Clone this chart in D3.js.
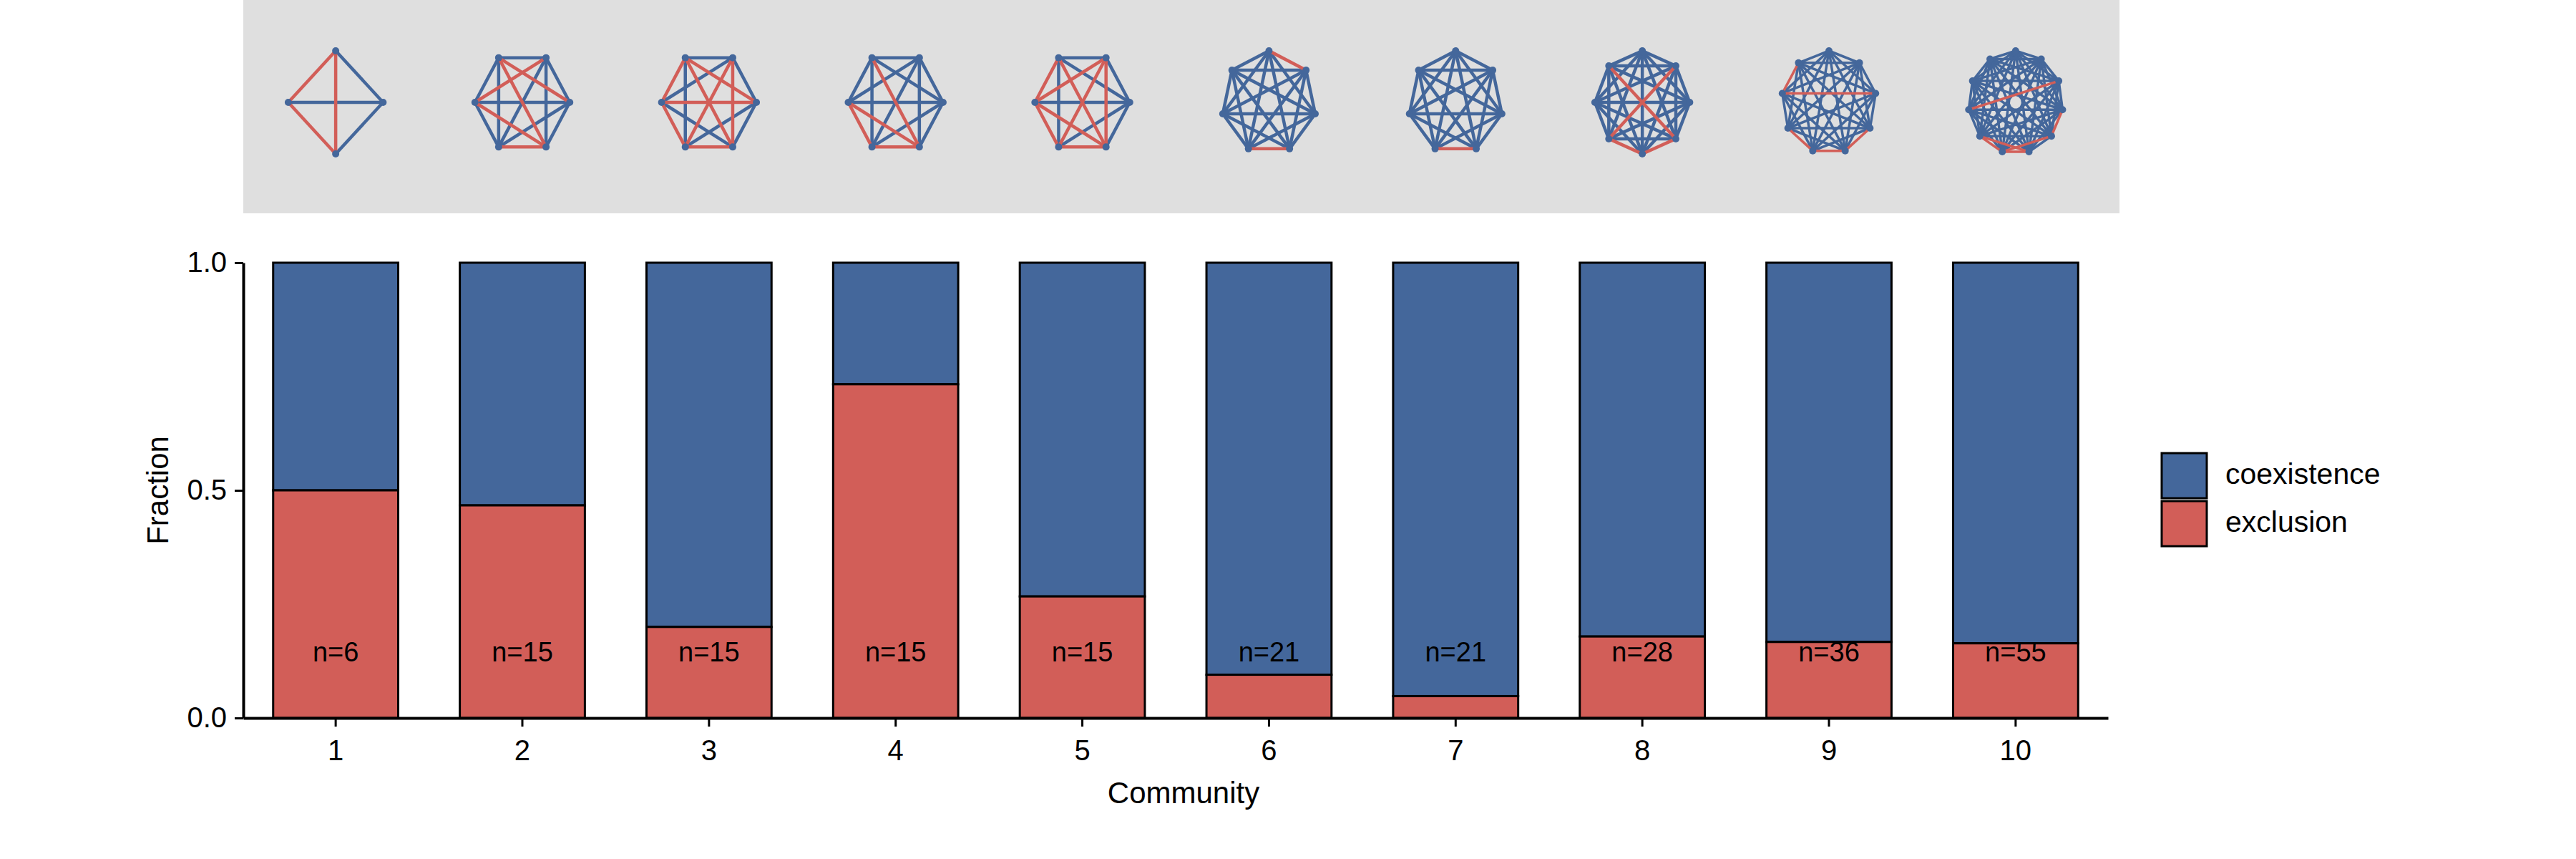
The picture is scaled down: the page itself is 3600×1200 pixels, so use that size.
<!DOCTYPE html>
<html><head><meta charset="utf-8">
<script src="https://cdn.jsdelivr.net/npm/d3@7"></script>
<style>body{margin:0;background:#fff}text{font-family:"Liberation Sans",Arial,sans-serif}</style>
</head><body><svg id="chart" width="3600" height="1200"></svg>
<script>
const communities = ["1","2","3","4","5","6","7","8","9","10"];
const exclusion = [0.5, 0.467, 0.2, 0.733, 0.267, 0.095, 0.048, 0.179, 0.167, 0.164];
const nLabels = ["n=6","n=15","n=15","n=15","n=15","n=21","n=21","n=28","n=36","n=55"];
const nodeCounts = [4, 6, 6, 6, 6, 7, 7, 8, 9, 11];
const nodeStart = [-90, -120, -120, -120, -120, -90, -90, -90, -90, -90];
// red (exclusion) edges of each network, by node index clockwise from top
const redEdges = [
  [[0,3],[3,2],[0,2]],
  [[0,2],[1,5],[3,4],[0,3],[5,3]],
  [[5,0],[5,2],[5,4],[0,2],[1,3],[4,1],[3,4],[0,3]],
  [[0,3],[5,3],[5,4],[4,3]],
  [[5,0],[5,1],[5,3],[5,4],[0,3],[1,3],[4,3],[1,4]],
  [[0,1],[4,3]],
  [[3,4]],
  [[7,3],[1,5],[4,3],[4,5]],
  [[7,8],[6,5],[5,4],[4,3],[2,7]],
  [[5,6],[6,7],[5,7],[6,4],[2,8],[3,4]]
];
const ticks = [0, 0.5, 1];
const blue = "#44679b", red = "#d25e58";

const svg = d3.select("#chart");
const x = d3.scaleBand().domain(communities).range([340, 2946]).paddingInner(0.33).paddingOuter(0.16);
const y = d3.scaleLinear().domain([0, 1]).range([1003, 367]);

// network strip
svg.append("rect").attr("x", 340).attr("y", 0).attr("width", 2622).attr("height", 298).attr("fill", "#dfdfdf");
const rad = 72;
communities.forEach((c, i) => {
  const cx = x(c) + x.bandwidth() / 2, cy = 143;
  const n = nodeCounts[i];
  const pts = d3.range(n).map(k => {
    const a = (nodeStart[i] + k * 360 / n) * Math.PI / 180;
    return [cx + rad * 0.92 * Math.cos(a), cy + rad * Math.sin(a)];
  });
  const reds = new Set(redEdges[i].map(e => Math.min(...e) + "-" + Math.max(...e)));
  const edges = [];
  for (let a = 0; a < n; a++) for (let b = a + 1; b < n; b++) edges.push([a, b, reds.has(a + "-" + b)]);
  edges.sort((p, q) => p[2] - q[2]);
  const g = svg.append("g");
  g.selectAll("line").data(edges).join("line")
    .attr("x1", e => pts[e[0]][0]).attr("y1", e => pts[e[0]][1])
    .attr("x2", e => pts[e[1]][0]).attr("y2", e => pts[e[1]][1])
    .attr("stroke", e => e[2] ? red : blue).attr("stroke-width", n > 8 ? 3.5 : 4.5);
  g.selectAll("circle").data(pts).join("circle")
    .attr("cx", p => p[0]).attr("cy", p => p[1]).attr("r", 5).attr("fill", blue);
});

// bars
const bars = svg.append("g");
communities.forEach((c, i) => {
  bars.append("rect").attr("x", x(c)).attr("width", x.bandwidth())
    .attr("y", y(1)).attr("height", y(exclusion[i]) - y(1))
    .attr("fill", blue).attr("stroke", "#000").attr("stroke-width", 3);
  bars.append("rect").attr("x", x(c)).attr("width", x.bandwidth())
    .attr("y", y(exclusion[i])).attr("height", y(0) - y(exclusion[i]))
    .attr("fill", red).attr("stroke", "#000").attr("stroke-width", 3);
  bars.append("text").attr("x", x(c) + x.bandwidth() / 2).attr("y", y(0.14))
    .attr("text-anchor", "middle").attr("dominant-baseline", "middle")
    .attr("font-size", 38).text(nLabels[i]);
});

// axes
const xAxis = svg.append("g").attr("transform", "translate(0,1003)")
  .call(d3.axisBottom(x).tickSize(12).tickSizeOuter(0));
xAxis.select(".domain").attr("stroke-width", 4);
const yAxis = svg.append("g").attr("transform", "translate(340,0)")
  .call(d3.axisLeft(y).tickValues(ticks).tickFormat(d3.format(".1f")).tickSize(12).tickSizeOuter(0));
yAxis.select(".domain").attr("stroke-width", 4);
[xAxis, yAxis].forEach(a => {
  a.selectAll(".tick line").attr("stroke-width", 3);
  a.selectAll("text").attr("font-size", 40).attr("fill", "#000")
    .attr("font-family", "'Liberation Sans',Arial,sans-serif");
});
xAxis.selectAll("text").attr("dy", "1.1em");
yAxis.selectAll("text").attr("dx", "-0.2em");

svg.append("text").attr("x", 1654).attr("y", 1122).attr("text-anchor", "middle").attr("font-size", 42).text("Community");
svg.append("text").attr("transform", "translate(235,685) rotate(-90)").attr("text-anchor", "middle").attr("font-size", 42).text("Fraction");

// legend
const legend = [["coexistence", blue], ["exclusion", red]];
legend.forEach((l, i) => {
  svg.append("rect").attr("x", 3021).attr("y", 633 + i * 67).attr("width", 63).attr("height", 63)
    .attr("fill", l[1]).attr("stroke", "#000").attr("stroke-width", 3);
  svg.append("text").attr("x", 3110).attr("y", 665 + i * 67).attr("dominant-baseline", "middle")
    .attr("font-size", 41).text(l[0]);
});
</script></body></html>
